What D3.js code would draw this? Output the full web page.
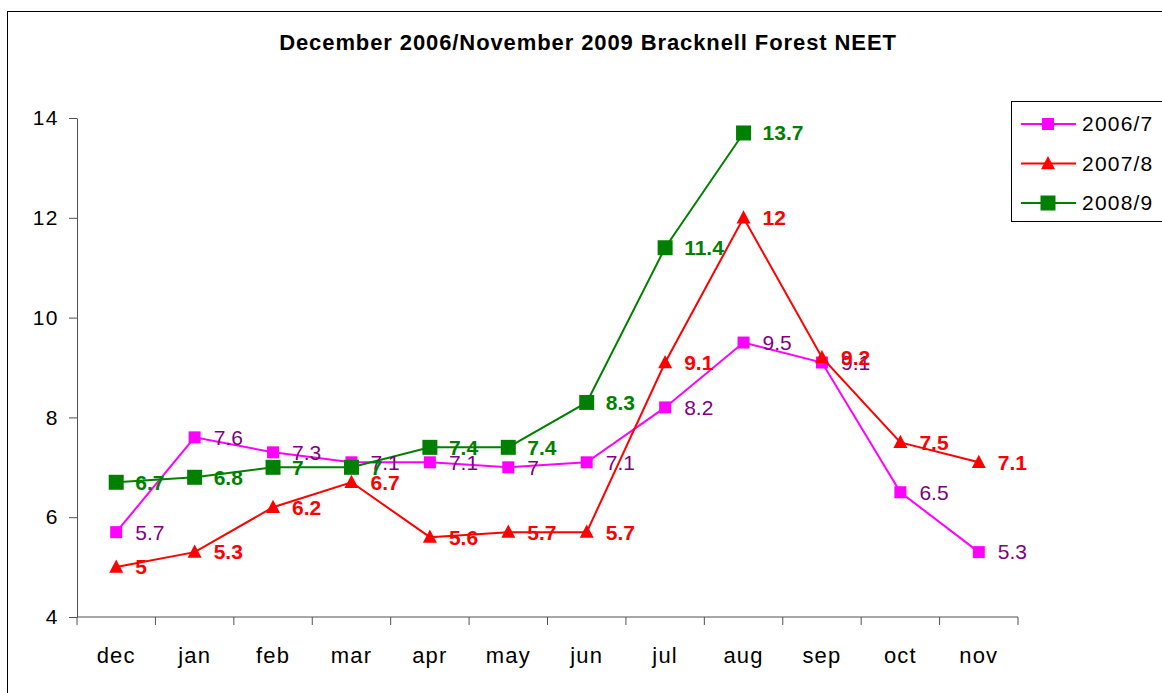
<!DOCTYPE html>
<html>
<head>
<meta charset="utf-8">
<script src="https://cdn.jsdelivr.net/npm/d3@7"></script>
<style>
  body { margin: 0; background: #fff; }
  svg { display: block; font-family: "Liberation Sans", Arial, sans-serif; }
</style>
</head>
<body>
<svg width="1162" height="693"></svg>
<script>
// months along x axis
var months = ["dec", "jan", "feb", "mar", "apr", "may", "jun", "jul", "aug", "sep", "oct", "nov"];
var yTicks = [4, 6, 8, 10, 12, 14];

// series values (null = no data yet)
var s2006 = [5.7, 7.6, 7.3, 7.1, 7.1, 7, 7.1, 8.2, 9.5, 9.1, 6.5, 5.3];
var s2007 = [5, 5.3, 6.2, 6.7, 5.6, 5.7, 5.7, 9.1, 12, 9.2, 7.5, 7.1];
var s2008 = [6.7, 6.8, 7, 7, 7.4, 7.4, 8.3, 11.4, 13.7, null, null, null];

var seriesNames = ["2006/7", "2007/8", "2008/9"];

var series = [
  { name: seriesNames[0], values: s2006, color: "#ff00ff", label: "#800080", bold: false, shape: "square", size: 12 },
  { name: seriesNames[1], values: s2007, color: "#ff0000", label: "#ff0000", bold: true, shape: "triangle", size: 14 },
  { name: seriesNames[2], values: s2008, color: "#008000", label: "#008000", bold: true, shape: "square", size: 15 }
];

var svg = d3.select("svg");

// outer chart border
svg.append("rect")
  .attr("x", 7.5).attr("y", 11.5)
  .attr("width", 1200).attr("height", 720)
  .attr("fill", "none")
  .attr("stroke", "#000")
  .attr("stroke-width", 1);

svg.append("text")
  .attr("x", 588).attr("y", 50)
  .attr("text-anchor", "middle")
  .attr("font-size", 22)
  .attr("font-weight", "bold")
  .attr("letter-spacing", 0.9)
  .text("December 2006/November 2009 Bracknell Forest NEET");

var pLeft = 77, pRight = 1018, pTop = 118, pBottom = 617;
var axisColor = "#505050";

var x = d3.scaleBand().domain(months).range([pLeft, pRight]);
var y = d3.scaleLinear().domain([4, 14]).range([pBottom, pTop]);

// y axis
var yAxis = svg.append("g")
  .attr("transform", "translate(" + pLeft + ",0)")
  .call(d3.axisLeft(y).tickValues(yTicks).tickSize(8).tickSizeOuter(0).tickPadding(10).tickFormat(d3.format("d")));
yAxis.selectAll("text")
  .attr("font-size", 21)
  .attr("letter-spacing", 1.5)
  .attr("fill", "#000")
  .style("font-family", "Liberation Sans, Arial, sans-serif");
yAxis.selectAll("line, path").attr("stroke", axisColor);

// x axis: ticks at band boundaries
var xg = svg.append("g").attr("transform", "translate(0," + pBottom + ")");
xg.append("line")
  .attr("x1", pLeft).attr("x2", pRight)
  .attr("stroke", axisColor);
var bounds = months.map(function(m) { return x(m); }).concat([pRight]);
xg.selectAll("line.tick")
  .data(bounds)
  .enter().append("line")
  .attr("class", "tick")
  .attr("x1", function(d) { return d; })
  .attr("x2", function(d) { return d; })
  .attr("y1", 0).attr("y2", 8)
  .attr("stroke", axisColor);
xg.selectAll("text")
  .data(months)
  .enter().append("text")
  .attr("x", function(d) { return x(d) + x.bandwidth() / 2; })
  .attr("y", 46)
  .attr("text-anchor", "middle")
  .attr("font-size", 22)
  .attr("letter-spacing", 1.2)
  .text(function(d) { return d; });

function cx(i) { return x(months[i]) + x.bandwidth() / 2; }

var line = d3.line()
  .defined(function(d) { return d != null; })
  .x(function(d, i) { return cx(i); })
  .y(function(d) { return y(d); });

function drawMarker(g, shape, size, color, px, py) {
  if (shape == "square") {
    g.append("rect")
      .attr("x", px - size / 2).attr("y", py - size / 2)
      .attr("width", size).attr("height", size)
      .attr("fill", color);
  } else {
    var h = size * 0.9;
    g.append("path")
      .attr("d", "M" + px + "," + (py - h * 0.6) + "L" + (px + size / 2) + "," + (py + h * 0.45) + "L" + (px - size / 2) + "," + (py + h * 0.45) + "Z")
      .attr("fill", color);
  }
}

// lines + markers
series.forEach(function(s) {
  var g = svg.append("g");
  g.append("path")
    .datum(s.values)
    .attr("d", line)
    .attr("fill", "none")
    .attr("stroke", s.color)
    .attr("stroke-width", 2);
  s.values.forEach(function(v, i) {
    if (v == null) return;
    drawMarker(g, s.shape, s.size, s.color, cx(i), y(v));
  });
});

// data labels
series.forEach(function(s) {
  svg.append("g").selectAll("text")
    .data(s.values.map(function(v, i) { return { v: v, i: i }; }).filter(function(d) { return d.v != null; }))
    .enter().append("text")
    .attr("x", function(d) { return cx(d.i) + 19; })
    .attr("y", function(d) { return y(d.v); })
    .attr("dy", "0.35em")
    .attr("font-size", 21)
    .attr("font-weight", s.bold ? "bold" : "normal")
    .attr("fill", s.label)
    .text(function(d) { return d.v; });
});

// legend
var lg = svg.append("g");
lg.append("rect")
  .attr("x", 1011.5).attr("y", 101.5)
  .attr("width", 200).attr("height", 120)
  .attr("fill", "#fff")
  .attr("stroke", "#000");
series.forEach(function(s, k) {
  var ly = 124 + k * 39.5;
  lg.append("line")
    .attr("x1", 1021).attr("x2", 1076)
    .attr("y1", ly).attr("y2", ly)
    .attr("stroke", s.color).attr("stroke-width", 2);
  drawMarker(lg, s.shape, s.size, s.color, 1048, ly);
  lg.append("text")
    .attr("x", 1082).attr("y", ly)
    .attr("dy", "0.35em")
    .attr("font-size", 21)
    .attr("letter-spacing", 1.2)
    .text(s.name);
});
</script>
</body>
</html>
